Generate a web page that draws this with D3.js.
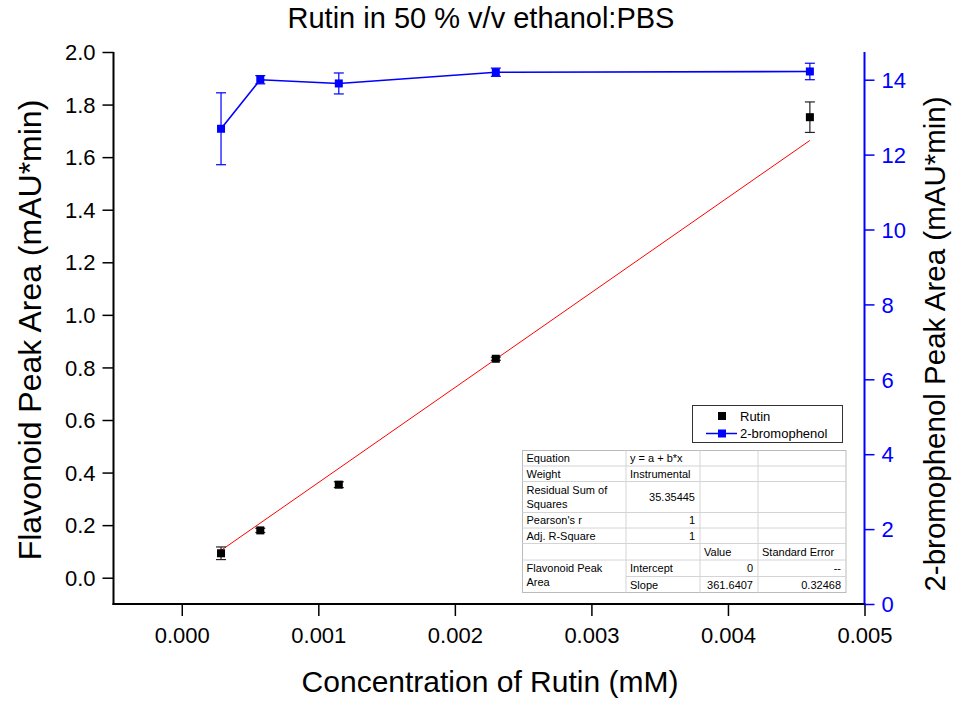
<!DOCTYPE html>
<html>
<head>
<meta charset="utf-8">
<script src="https://cdn.jsdelivr.net/npm/d3@7/dist/d3.min.js"></script>
<style>
  html, body { margin: 0; padding: 0; background: #fff; }
  svg { display: block; font-family: "Liberation Sans", Arial, sans-serif; }
</style>
</head>
<body>
<svg id="chart" width="955" height="704"></svg>
<script>
// Rutin concentrations (mM), two-fold dilution series
const concentrations = [0.0002875, 0.000575, 0.00115, 0.0023, 0.0046];
// Flavonoid (rutin) peak areas, left axis
const rutinArea = [0.093, 0.180, 0.354, 0.833, 1.752];
const rutinErr  = [0.024, 0.008, 0.011, 0.006, 0.058];
// Internal standard (2-bromophenol) peak areas, right axis
const bromoArea = [12.69, 14.00, 13.90, 14.20, 14.22];
const bromoErr  = [0.96, 0.11, 0.28, 0.11, 0.22];
// Linear fit y = a + b*x
const fitIntercept = 0;
const fitSlope = 361.6407;

const xTicks = [0, 0.001, 0.002, 0.003, 0.004, 0.005];
const yLeftTicks = [0, 0.2, 0.4, 0.6, 0.8, 1.0, 1.2, 1.4, 1.6, 1.8, 2.0];
const yRightTicks = [0, 2, 4, 6, 8, 10, 12, 14];

// Fit statistics table rows: [col1, col2, col3, col4]
const tableRows = [
  ["Equation", "y = a + b*x", "", ""],
  ["Weight", "Instrumental", "", ""],
  ["Residual Sum of|Squares", "35.35445", "", ""],
  ["Pearson's r", "1", "", ""],
  ["Adj. R-Square", "1", "", ""],
  ["", "", "Value", "Standard Error"],
  ["Flavonoid Peak|Area", "Intercept", "0", "--"],
  ["", "Slope", "361.6407", "0.32468"]
];

const svg = d3.select("#chart");
const L = 113.5, R = 864.5, T = 52, B = 604;

const x = d3.scaleLinear().domain([-0.0005, 0.005]).range([L, R]);
const yL = d3.scaleLinear().domain([-0.1, 2.0]).range([B, T]);
const yR = d3.scaleLinear().domain([0, 14.74]).range([B, T]);

// Title
svg.append("text").attr("x", 481).attr("y", 28).attr("text-anchor", "middle")
  .attr("font-size", 29).text("Rutin in 50 % v/v ethanol:PBS");

// Fit line
const fitLine = d3.line().x(d => x(d)).y(d => yL(fitIntercept + fitSlope * d));
svg.append("path").attr("d", fitLine([concentrations[0], concentrations[concentrations.length - 1]]))
  .attr("stroke", "#ff0000").attr("stroke-width", 1).attr("fill", "none");

// Bottom axis
const xAxis = svg.append("g").attr("transform", `translate(0,${B})`);
xAxis.call(d3.axisBottom(x).tickValues(d3.range(-0.0005, 0.00501, 0.0005)).tickSize(7).tickFormat(""));
xAxis.call(d3.axisBottom(x).tickValues(xTicks).tickSize(12).tickFormat(d3.format(".3f")));
xAxis.selectAll("path.domain").remove();
xAxis.selectAll("line").attr("stroke", "#000").attr("stroke-width", 1.5);
xAxis.selectAll("text").attr("font-size", 22).attr("y", 39).attr("dy", 0).attr("fill", "#000");
svg.append("line").attr("x1", L - 1).attr("x2", R + 1).attr("y1", B).attr("y2", B)
  .attr("stroke", "#000").attr("stroke-width", 2);

// Left axis
const yAxisL = svg.append("g").attr("transform", `translate(${L},0)`);
yAxisL.call(d3.axisLeft(yL).tickValues(d3.range(-0.1, 2.001, 0.1)).tickSize(5).tickFormat(""));
yAxisL.call(d3.axisLeft(yL).tickValues(yLeftTicks).tickSize(11).tickFormat(d3.format(".1f")));
yAxisL.selectAll("path.domain").remove();
yAxisL.selectAll("line").attr("stroke", "#000").attr("stroke-width", 1.5);
yAxisL.selectAll("text").attr("font-size", 22).attr("fill", "#000").attr("x", -18).attr("dy", "0.35em");
svg.append("line").attr("x1", L).attr("x2", L).attr("y1", T).attr("y2", B + 1)
  .attr("stroke", "#000").attr("stroke-width", 2);

// Right axis
const yAxisR = svg.append("g").attr("transform", `translate(${R},0)`);
yAxisR.call(d3.axisRight(yR).tickValues(d3.range(0, 14.01, 1)).tickSize(5).tickFormat(""));
yAxisR.call(d3.axisRight(yR).tickValues(yRightTicks).tickSize(10).tickFormat(d3.format("d")));
yAxisR.selectAll("path.domain").remove();
yAxisR.selectAll("line").attr("stroke", "#0000ff").attr("stroke-width", 1.5);
yAxisR.selectAll("text").attr("font-size", 22).attr("fill", "#0000ff").attr("x", 17).attr("dy", "0.35em");
svg.append("line").attr("x1", R).attr("x2", R).attr("y1", T).attr("y2", B)
  .attr("stroke", "#0000ff").attr("stroke-width", 2);

// Axis titles
svg.append("text").attr("x", 490).attr("y", 692).attr("text-anchor", "middle")
  .attr("font-size", 30).text("Concentration of Rutin (mM)");
svg.append("text").attr("transform", "translate(41,330) rotate(-90)").attr("text-anchor", "middle")
  .attr("font-size", 32).text("Flavonoid Peak Area (mAU*min)");
svg.append("text").attr("transform", "translate(945,344) rotate(-90)").attr("text-anchor", "middle")
  .attr("font-size", 29.5).text("2-bromophenol Peak Area (mAU*min)");

// Error bars helper
function errorBars(g, xs, ys, es, yScale, color) {
  const cap = 5;
  xs.forEach((xv, i) => {
    const cx = x(xv), y1 = yScale(ys[i] + es[i]), y0 = yScale(ys[i] - es[i]);
    g.append("line").attr("x1", cx).attr("x2", cx).attr("y1", y1).attr("y2", y0);
    g.append("line").attr("x1", cx - cap).attr("x2", cx + cap).attr("y1", y1).attr("y2", y1);
    g.append("line").attr("x1", cx - cap).attr("x2", cx + cap).attr("y1", y0).attr("y2", y0);
  });
  g.attr("stroke", color).attr("stroke-width", 1.2);
}

// 2-bromophenol series
errorBars(svg.append("g"), concentrations, bromoArea, bromoErr, yR, "#0000ff");
svg.append("path")
  .attr("d", d3.line().x((d, i) => x(concentrations[i])).y(d => yR(d))(bromoArea))
  .attr("stroke", "#0000ff").attr("stroke-width", 1.6).attr("fill", "none");
svg.append("g").selectAll("rect").data(bromoArea).join("rect")
  .attr("x", (d, i) => x(concentrations[i]) - 4).attr("y", d => yR(d) - 4)
  .attr("width", 8).attr("height", 8).attr("fill", "#0000ff");

// Rutin series
errorBars(svg.append("g"), concentrations, rutinArea, rutinErr, yL, "#222");
svg.append("g").selectAll("rect").data(rutinArea).join("rect")
  .attr("x", (d, i) => x(concentrations[i]) - 4).attr("y", d => yL(d) - 4)
  .attr("width", 8).attr("height", 8).attr("fill", "#000");

// Legend
const lg = svg.append("g");
lg.append("rect").attr("x", 692.5).attr("y", 405.5).attr("width", 150).attr("height", 37)
  .attr("fill", "#fff").attr("stroke", "#333").attr("stroke-width", 1);
lg.append("rect").attr("x", 718).attr("y", 412).attr("width", 8).attr("height", 8).attr("fill", "#000");
lg.append("text").attr("x", 740).attr("y", 420.5).attr("font-size", 13).text("Rutin");
lg.append("line").attr("x1", 706).attr("x2", 737).attr("y1", 433.5).attr("y2", 433.5)
  .attr("stroke", "#0000ff").attr("stroke-width", 1.5);
lg.append("rect").attr("x", 718).attr("y", 429.5).attr("width", 8).attr("height", 8).attr("fill", "#0000ff");
lg.append("text").attr("x", 740).attr("y", 438).attr("font-size", 13).text("2-bromophenol");

// Fit statistics table
const tg = svg.append("g").attr("font-size", 11).attr("fill", "#000");
const colX = [522.5, 626, 700, 758, 846];
const rowY = [450.5, 466, 481.5, 512.5, 528, 543.5, 560, 576.5, 592.5];
tg.append("rect").attr("x", colX[0]).attr("y", rowY[0]).attr("width", colX[4] - colX[0])
  .attr("height", rowY[8] - rowY[0]).attr("fill", "#fff").attr("stroke", "#bbb");
rowY.slice(1, 8).forEach((yy, i) => {
  tg.append("line").attr("x1", i === 6 ? colX[1] : colX[0]).attr("x2", colX[4])
    .attr("y1", yy).attr("y2", yy).attr("stroke", "#d4d4d4");
});
colX.slice(1, 4).forEach(xx => {
  tg.append("line").attr("x1", xx).attr("x2", xx).attr("y1", rowY[0]).attr("y2", rowY[8])
    .attr("stroke", "#d4d4d4");
});
const isNum = s => /^[-0-9.]+$/.test(s);
tableRows.forEach((row, r) => {
  const top = rowY[r], bottom = rowY[r + 1];
  row.forEach((cell, c) => {
    if (!cell) return;
    const lines = cell.split("|");
    const right = isNum(cell);
    lines.forEach((ln, k) => {
      const yy = lines.length > 1 ? top + 12 + k * 14 : (top + bottom) / 2 + 4;
      tg.append("text")
        .attr("x", right ? colX[c + 1] - 5 : colX[c] + 4)
        .attr("y", yy)
        .attr("text-anchor", right ? "end" : "start")
        .text(ln);
    });
  });
});
</script>
</body>
</html>
